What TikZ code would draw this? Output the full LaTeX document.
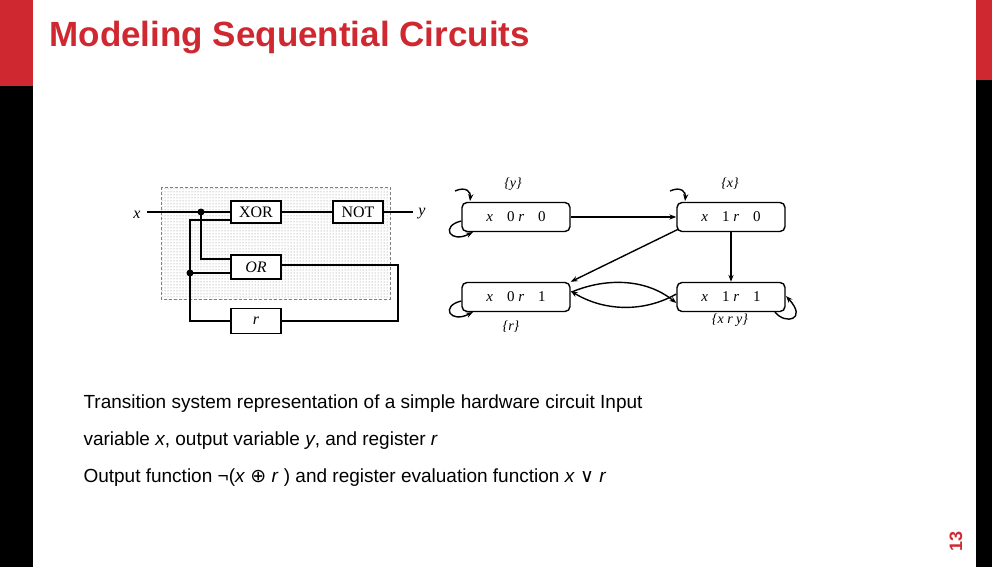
\documentclass[tikz,border=0pt]{standalone}
\usepackage{fontspec}
\setmainfont{Liberation Sans}
\newfontfamily\ser{Liberation Serif}
\newfontfamily\dv{DejaVu Sans}
\usetikzlibrary{patterns,arrows.meta}
\definecolor{tred}{RGB}{208,40,48}
\begin{document}
\begin{tikzpicture}[x=1pt,y=-1pt,
  gate/.style={draw,line width=1.8pt,minimum width=50pt,minimum height=22pt,inner sep=0pt,font=\ser\fontsize{16}{16}\selectfont,fill=white},
  wire/.style={line width=1.8pt},
  st/.style={draw,line width=1.4pt,rounded corners=5pt,minimum width=108pt,minimum height=29pt,inner sep=0pt,font=\ser\itshape\fontsize{15}{15}\selectfont},
  lab/.style={font=\ser\itshape\fontsize{14}{14}\selectfont},
  tr/.style={line width=1.4pt,-{Stealth[length=7pt]}},
  body/.style={anchor=west,font=\fontsize{19}{19}\selectfont}]
\useasboundingbox (0,0) rectangle (992,567);
\fill[black] (0,85) rectangle (33,567);
\fill[tred] (0,0) rectangle (33,86);
\fill[black] (976,80) rectangle (992,567);
\fill[tred] (976,0) rectangle (992,80);
\node[anchor=west,text=tred,font=\bfseries\fontsize{35}{35}\selectfont] (title) at (46,38) {Modeling Sequential Circuits};
\node[rotate=90,text=tred,font=\bfseries\fontsize{18}{18}\selectfont] (pg) at (956,541) {13};
% circuit
\draw[gray,densely dashed,pattern=dots,pattern color=gray] (161,187) rectangle (390,299);
\node[gate] (xor) at (256,212) {XOR};
\node[gate] (not) at (358,212) {NOT};
\node[gate,minimum height=24pt] (or) at (256,267) {\itshape OR};
\node[gate,minimum height=25pt] (r) at (256,321) {\itshape r};
\node[font=\ser\itshape\fontsize{16}{16}\selectfont] (xin) at (137,215) {x};
\node[font=\ser\itshape\fontsize{16}{16}\selectfont] (yout) at (422,214) {y};
\coordinate (xw) at (147,212);
\coordinate (yw) at (413,212);
\coordinate (d1) at (201,212);
\coordinate (d2) at (190,273);
\draw[wire] (xw) -- (xor.west);
\draw[wire] (xor.east) -- (not.west);
\draw[wire] (not.east) -- (yw);
\draw[wire] (d1) |- (or.west|-0,259);
\draw[wire] (d2) -- (or.west|-0,273);
\draw[wire] (or.east|-0,265) -| (398,321) -- (r.east);
\draw[wire] (r.west) -| (190,220) -- (xor.west|-0,220);
\fill (d1) circle (3.5pt) (d2) circle (3.5pt);
% transition system
\node[st] (s00) at (516,217) {x\hspace{14pt}\upshape0 \itshape r\hspace{14pt}\upshape0};
\node[st] (s10) at (731,217) {x\hspace{14pt}\upshape1 \itshape r\hspace{14pt}\upshape0};
\node[st] (s01) at (516,297) {x\hspace{14pt}\upshape0 \itshape r\hspace{14pt}\upshape1};
\node[st] (s11) at (731,297) {x\hspace{14pt}\upshape1 \itshape r\hspace{14pt}\upshape1};
\node[lab] (ly) at (513,184) {\{y\}};
\node[lab] (lx) at (730,184) {\{x\}};
\node[lab] (lr) at (511,327) {\{r\}};
\node[lab] (lxry) at (730,320) {\{x r y\}};
\draw[tr] (s00) -- (s10);
\draw[tr] (s10.south west) ++(2,-3) coordinate (a1) (a1) -- (s01.north east);
\draw[tr] (s10.south) -- (s11.north);
\draw[tr] (s01.east) ++(1,-5) coordinate (b1) (b1) .. controls (605,278) and (645,278) .. ([yshift=-6]s11.west);
\draw[tr] ([yshift=3]s11.west) .. controls (645,312) and (605,312) .. ([yshift=6]s01.east);
\draw[tr] (455,191) .. controls (466,186) and (471,192) .. (470,201);
\draw[tr] (s00.west) ++(0,4) coordinate (c1) (c1) .. controls (440,226) and (450,244) .. (473,232);
\draw[tr] (670,191) .. controls (681,186) and (686,192) .. (685,201);
\draw[tr] (s01.west) ++(0,4) coordinate (c2) (c2) .. controls (440,306) and (450,324) .. (473,312);
\draw[tr] (775,312) .. controls (785,325) and (808,320) .. (786,296) ;
% text
\node[body] (t1) at (80,404) {Transition system representation of a simple hardware circuit Input};
\node[body] (t2) at (80,441) {variable \textit{x}, output variable \textit{y}, and register \textit{r}};
\node[body] (t3) at (80,478) {Output function ¬(\textit{x} {\dv ⊕} \textit{r} ) and register evaluation function \textit{x} {\dv ∨} \textit{r}};
\end{tikzpicture}
\end{document}
